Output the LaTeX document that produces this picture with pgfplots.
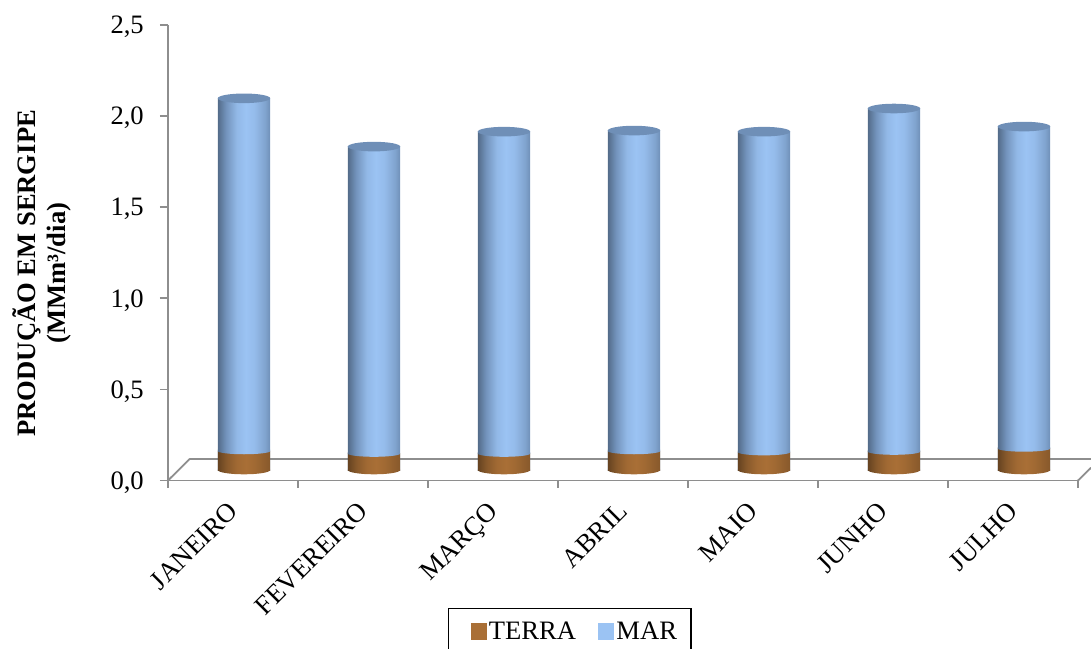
\documentclass[border=0pt]{standalone}
\usepackage{fontspec}
\setmainfont{Liberation Serif}
\usepackage{pgfplots}
\usepackage{pgfplotstable}
\pgfplotsset{compat=1.18}
\definecolor{axgray}{HTML}{8E8E8E}
\definecolor{terra}{HTML}{A96F36}
\definecolor{mar}{HTML}{9BC3F3}
\definecolor{capblue}{HTML}{6F8FB7}
\colorlet{bA}{capblue!75!black}
\colorlet{bB}{capblue!90!mar}
\colorlet{bC}{mar!80!capblue}
\colorlet{bD}{mar!85!capblue}
\colorlet{bE}{capblue!60!mar}
\colorlet{tA}{terra!60!black}
\colorlet{tB}{terra!80!black}
\colorlet{tC}{terra!95!black}
\colorlet{tD}{terra!85!black}
\pgfdeclarehorizontalshading{bluecyl}{100bp}{
 color(0bp)=(bA); color(25bp)=(bA); color(33bp)=(bB);
 color(43bp)=(bC); color(52bp)=(mar); color(60bp)=(bD); color(70bp)=(bE); color(75bp)=(capblue); color(100bp)=(capblue)}
\pgfdeclarehorizontalshading{terracyl}{100bp}{
 color(0bp)=(tA); color(25bp)=(tA); color(33bp)=(tB);
 color(43bp)=(tC); color(52bp)=(terra); color(60bp)=(tC); color(70bp)=(tD); color(75bp)=(tB); color(100bp)=(tB)}
\pgfdeclareplotmark{terrabase}{\path[draw=none, fill=none, shading=terracyl] (-26.2pt,0.5pt) -- (-26.2pt,0pt) arc (180:360:26.2pt and 4.3pt) -- (26.2pt,0.5pt) -- cycle;}
\pgfdeclareplotmark{marlip}{\path[draw=none, fill=none, shading=bluecyl] (-26.2pt,1.5pt) -- (-26.2pt,0pt) arc (180:360:26.2pt and 3.2pt) -- (26.2pt,1.5pt) -- cycle;}
\pgfdeclareplotmark{topcap}{\path[draw=none, fill=capblue] (0,0) ellipse (26.2pt and 4.8pt);}
\pgfplotstableread{
x    terra  mar    total
0.5  0.104  1.936  2.040
1.5  0.090  1.685  1.775
2.5  0.090  1.767  1.857
3.5  0.104  1.759  1.863
4.5  0.098  1.759  1.857
5.5  0.101  1.883  1.984
6.5  0.118  1.767  1.885
}\data
\pgfplotsset{bluebar/.style={ybar, bar shift=0pt, bar width=52.4pt, draw=none, shading=bluecyl},
  terrabar/.style={ybar, bar shift=0pt, bar width=52.4pt, draw=none, shading=terracyl}}
\begin{document}
\begin{tikzpicture}[font=\fontsize{26.6}{29}\selectfont]
\path[use as bounding box] (-168pt,-167.5pt) rectangle (923pt,480.5pt);
\begin{axis}[
  at={(0pt,0pt)}, anchor=south west,
  scale only axis, width=910pt, height=455.5pt,
  xmin=0, xmax=7, ymin=0, ymax=2.5,
  clip=false,
  axis lines=left,
  axis line style={-, draw=axgray, line width=1.8pt},
  tick style={draw=axgray, line width=1.8pt},
  tick align=outside,
  major tick length=8pt,
  xtick={0.5,1.5,2.5,3.5,4.5,5.5,6.5},
  xticklabels={JANEIRO,FEVEREIRO,MARÇO,ABRIL,MAIO,JUNHO,JULHO},
  x tick style={draw=none},
  minor xtick={0,1,2,3,4,5,6,7},
  minor x tick style={draw=axgray, line width=1.8pt},
  minor tick length=7pt,
  xticklabel style={rotate=45, anchor=north east, inner sep=0pt, xshift=-12.6pt, yshift=-3.9pt},
  ytick={0,0.5,1,1.5,2,2.5},
  /pgf/number format/use comma,
  /pgf/number format/fixed,
  /pgf/number format/fixed zerofill,
  /pgf/number format/precision=1,
  /pgf/number format/assume math mode=true,
  yticklabel style={inner sep=0pt, xshift=-16pt, yshift=-2pt},
  legend style={at={(axis description cs:0.3077,-0.28)}, anchor=north west,
    draw=black, line width=1.3pt, legend columns=2, inner xsep=12pt, inner ysep=11pt,
    font=\fontsize{26.6}{29}\selectfont, /tikz/every even column/.append style={column sep=20pt}},
]
\addplot[axgray, line width=1.8pt, forget plot] coordinates {(0,0) (0.169,0.12)};
\addplot[axgray, line width=1.8pt, forget plot] coordinates {(0.169,0.12) (7.1,0.12)};
\addplot[axgray, line width=1.8pt, forget plot] coordinates {(7,0) (7.1,0.07)};
\addlegendimage{legend image code/.code={\path (-9pt,0pt); \fill[terra] (1pt,-8pt) rectangle (16pt,8pt);}}
\addlegendentry{TERRA}
\addlegendimage{legend image code/.code={\fill[mar] (1pt,-8pt) rectangle (16pt,8pt);}}
\addlegendentry{MAR}
\node[rotate=90, align=center, font=\fontsize{26.6}{30}\selectfont\bfseries] at (axis description cs:-0.1388,0.455) {PRODUÇÃO EM SERGIPE\\(MMm³/dia)};
\end{axis}
\begin{axis}[
  at={(11pt,10.5pt)}, anchor=south west,
  scale only axis, width=910pt, height=455.5pt,
  xmin=0, xmax=7, ymin=0, ymax=2.5,
  clip=false, hide axis,
]
\addplot[bluebar] coordinates {(0.5,2.040)};
\addplot[bluebar] coordinates {(1.5,1.775)};
\addplot[bluebar] coordinates {(2.5,1.857)};
\addplot[bluebar] coordinates {(3.5,1.863)};
\addplot[bluebar] coordinates {(4.5,1.857)};
\addplot[bluebar] coordinates {(5.5,1.984)};
\addplot[bluebar] coordinates {(6.5,1.885)};
\addplot[terrabar] coordinates {(0.5,0.104)};
\addplot[terrabar] coordinates {(1.5,0.090)};
\addplot[terrabar] coordinates {(2.5,0.090)};
\addplot[terrabar] coordinates {(3.5,0.104)};
\addplot[terrabar] coordinates {(4.5,0.098)};
\addplot[terrabar] coordinates {(5.5,0.101)};
\addplot[terrabar] coordinates {(6.5,0.118)};
\addplot[only marks, mark=terrabase, draw=none] table[x=x, y expr=0] {\data};
\addplot[only marks, mark=marlip, draw=none] table[x=x, y=terra] {\data};
\addplot[only marks, mark=topcap, draw=none] table[x=x, y=total] {\data};
\end{axis}
\end{tikzpicture}
\end{document}
